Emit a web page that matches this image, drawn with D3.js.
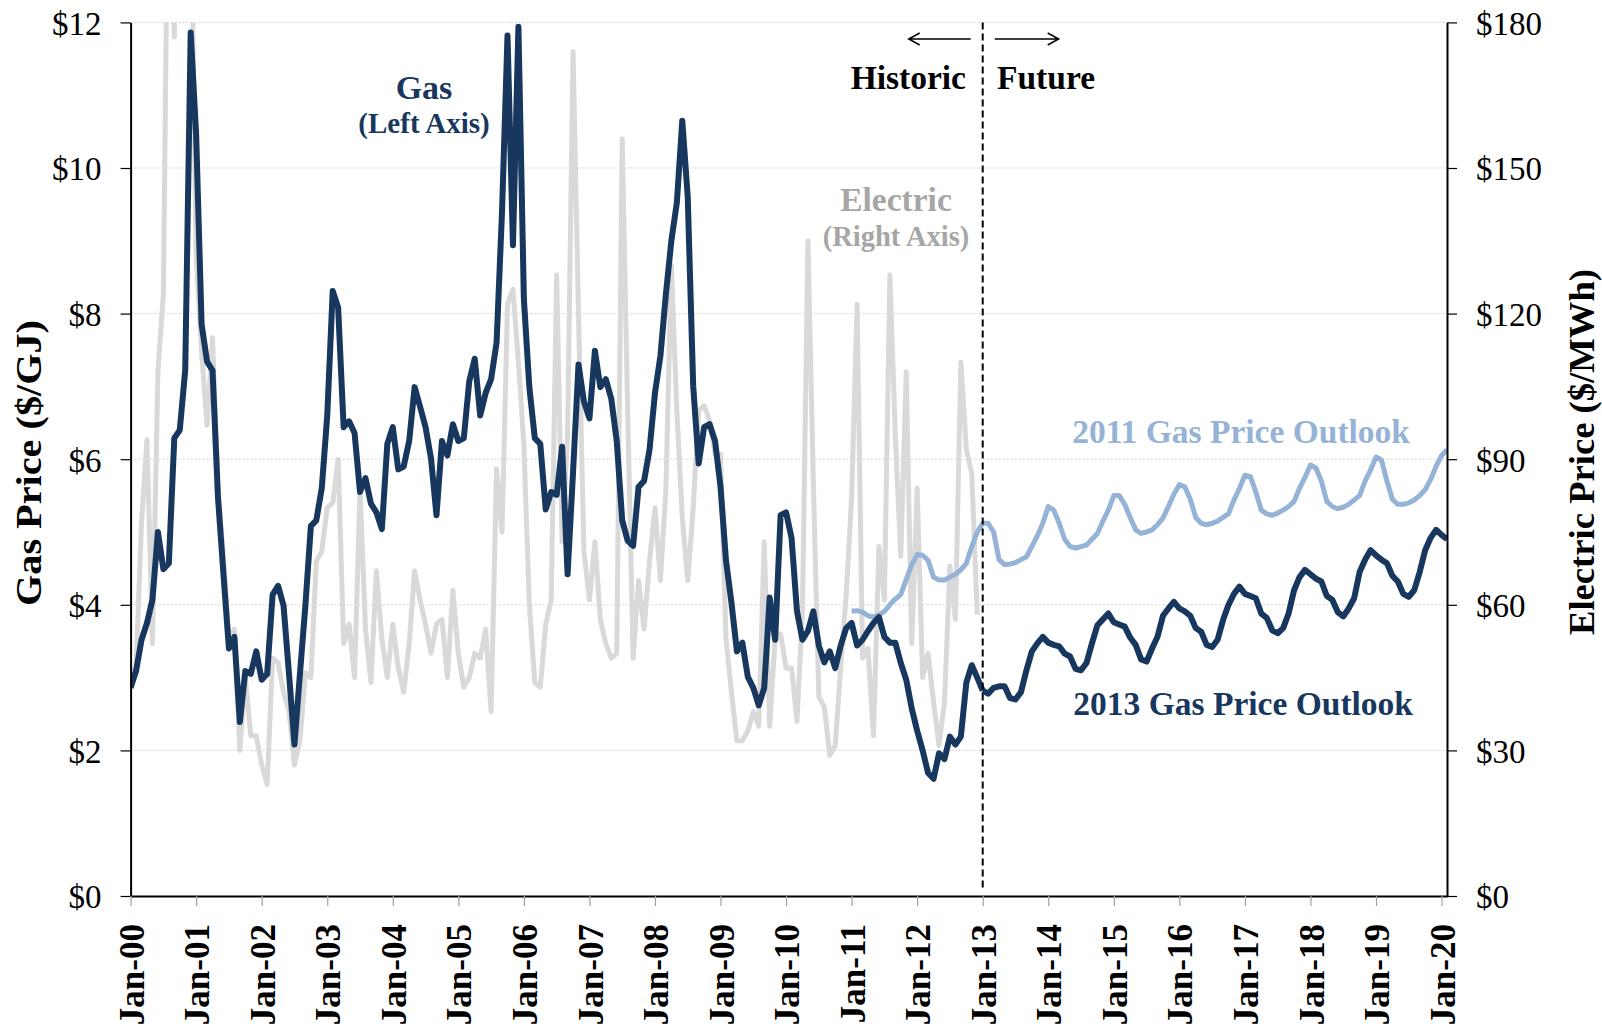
<!DOCTYPE html>
<html>
<head>
<meta charset="utf-8">
<script src="https://cdn.jsdelivr.net/npm/d3@7"></script>
<style>
  body { margin: 0; background: #fff; }
  svg text { font-family: "Times New Roman", "Liberation Serif", serif; }
</style>
</head>
<body>
<div id="chart"></div>
<script>
// monthly values, month 0 = Jan-00
var gasHistStart = 0;
var gasHist = [
  2.86, 3.09, 3.52, 3.75, 4.07, 5.0, 4.49, 4.57, 6.29, 6.40,
  7.22, 11.86, 10.46, 7.85, 7.34, 7.22, 5.47, 4.42, 3.40, 3.56,
  2.39, 3.09, 3.05, 3.36, 2.97, 3.05, 4.14, 4.26, 3.99, 3.05,
  2.08, 3.05, 3.99, 5.08, 5.16, 5.6, 6.6, 8.31, 8.08, 6.44,
  6.52, 6.36, 5.55, 5.74, 5.39, 5.27, 5.04, 6.21, 6.44, 5.86,
  5.90, 6.25, 6.99, 6.72, 6.44, 6.01, 5.23, 6.25, 6.05, 6.48,
  6.25, 6.29, 7.07, 7.38, 6.6, 6.91, 7.1, 7.6, 9.4, 11.82,
  8.94, 11.94, 8.2, 6.99, 6.29, 6.21, 5.31, 5.55, 5.51, 6.17,
  4.42, 5.82, 7.3, 6.79, 6.56, 7.49, 6.99, 7.1, 6.83, 6.25,
  5.16, 4.88, 4.81, 5.62, 5.7, 6.13, 6.91, 7.42, 8.27, 9.0,
  9.52, 10.65, 9.6, 7.0, 5.94, 6.44, 6.48, 6.25, 5.62, 4.61,
  4.03, 3.36, 3.48, 3.01, 2.86, 2.62, 2.86, 4.1, 3.52, 5.23,
  5.27, 4.92, 3.91, 3.52, 3.64, 3.91, 3.44, 3.21, 3.36, 3.13,
  3.44, 3.68, 3.75, 3.44, 3.52, 3.64, 3.75, 3.83, 3.56, 3.48,
  3.48, 3.2, 2.97, 2.58, 2.27, 2.0, 1.69, 1.61, 1.96, 1.88,
  2.19, 2.08, 2.19, 2.93, 3.17, 3.0, 2.82
];

var elecStart = 0;
var elec = [
  46, 47, 77, 94, 52, 108, 124, 230, 177, 260,
  240, 210, 132, 112, 97, 115, 84, 70, 53, 55,
  30, 45, 33, 33, 27, 23, 49, 48, 42, 38,
  27, 32, 46, 45, 69, 71, 80, 81, 90, 52,
  56, 45, 84, 55, 44, 67, 53, 45, 56, 47,
  42, 52, 67, 61, 56, 50, 56, 57, 45, 63,
  50, 43, 45, 50, 49, 55, 38, 88, 75, 122,
  125, 110, 93, 60, 44, 43, 56, 61, 128, 73,
  95, 174, 120, 71, 61, 73, 57, 52, 49, 50,
  156, 100, 49, 65, 55, 69, 80, 65, 84, 130,
  100, 78, 65, 80, 100, 101, 98, 91, 91, 53,
  42, 32, 32, 34, 38, 35, 73, 35, 53, 54,
  47, 47, 36, 59, 135, 85, 41, 39, 29, 31,
  47, 62, 82, 122, 49, 51, 33, 72, 61, 128,
  95, 70, 108, 52, 84, 45, 50, 40, 31, 40,
  68, 57, 110, 92, 87, 58
];

var outlook2011Start = 132;
var outlook2011 = [
  3.91, 3.92, 3.9, 3.85, 3.83, 3.86, 3.91, 4.0, 4.08, 4.14,
  4.35, 4.55, 4.69, 4.68, 4.61, 4.38, 4.34, 4.34, 4.38, 4.42,
  4.48, 4.57, 4.8, 5.0, 5.12, 5.12, 5.0, 4.62, 4.55, 4.56,
  4.58, 4.62, 4.66, 4.8, 4.95, 5.12, 5.35, 5.3, 5.12, 4.9,
  4.8, 4.78, 4.8, 4.82, 4.9, 4.98, 5.15, 5.3, 5.5, 5.5,
  5.38, 5.2, 5.03, 4.98, 5.0, 5.03, 5.1, 5.19, 5.35, 5.52,
  5.65, 5.62, 5.45, 5.2, 5.12, 5.1, 5.12, 5.15, 5.2, 5.25,
  5.44, 5.6, 5.78, 5.76, 5.55, 5.3, 5.25, 5.23, 5.26, 5.3,
  5.35, 5.42, 5.6, 5.75, 5.92, 5.88, 5.7, 5.42, 5.35, 5.32,
  5.34, 5.38, 5.44, 5.5, 5.7, 5.85, 6.03, 5.99, 5.7, 5.45,
  5.38, 5.38, 5.4, 5.44, 5.5, 5.58, 5.72, 5.9, 6.05, 6.13
];

var outlook2013Start = 156;
var outlook2013 = [
  2.82, 2.78, 2.86, 2.88, 2.88, 2.72, 2.7, 2.8, 3.1, 3.36,
  3.47, 3.56, 3.48, 3.45, 3.43, 3.33, 3.29, 3.12, 3.1, 3.2,
  3.47, 3.72, 3.8, 3.88, 3.76, 3.73, 3.70, 3.55, 3.45, 3.25,
  3.22, 3.4, 3.56, 3.85, 3.95, 4.04, 3.95, 3.91, 3.85, 3.68,
  3.63, 3.45, 3.42, 3.52, 3.79, 4.0, 4.15, 4.25, 4.15, 4.12,
  4.09, 3.88, 3.82, 3.65, 3.61, 3.68, 3.88, 4.2, 4.38, 4.48,
  4.42, 4.36, 4.32, 4.12, 4.07, 3.9, 3.84, 3.95, 4.09, 4.45,
  4.62, 4.75, 4.68, 4.62, 4.57, 4.4, 4.32, 4.15, 4.11, 4.2,
  4.45, 4.75, 4.92, 5.03, 4.96, 4.9
];

var gasTicks = [0, 2, 4, 6, 8, 10, 12];
var elecTicks = [0, 30, 60, 90, 120, 150, 180];
var xTickMonths = [0, 12, 24, 36, 48, 60, 72, 84, 96, 108, 120, 132, 144, 156, 168, 180, 192, 204, 216, 228, 240];
var xTickLabels = ["Jan-00", "Jan-01", "Jan-02", "Jan-03", "Jan-04", "Jan-05", "Jan-06",
  "Jan-07", "Jan-08", "Jan-09", "Jan-10", "Jan-11", "Jan-12", "Jan-13", "Jan-14",
  "Jan-15", "Jan-16", "Jan-17", "Jan-18", "Jan-19", "Jan-20"];
var splitMonth = 156; // Jan-13, historic | future

var svgwidth = 1602;
var svgheight = 1027;
var plotLeft = 130.6, plotRight = 1447, plotTop = 22.4, plotBottom = 896;

var navy = "#17375e", lightBlue = "#95b3d7", grey = "#d9d9d9";

var svg = d3
  .select("#chart")
  .append("svg")
  .attr("width", svgwidth)
  .attr("height", svgheight)
  .style("background", "#fff");

var x = d3.scaleLinear().domain([0, 241]).range([plotLeft, plotRight]);
var yGas = d3.scaleLinear().domain([0, 12]).range([plotBottom, plotTop]);
var yElec = d3.scaleLinear().domain([0, 180]).range([plotBottom, plotTop]);

svg.append("clipPath").attr("id", "plot-clip")
  .append("rect")
  .attr("x", plotLeft).attr("y", plotTop)
  .attr("width", plotRight - plotLeft).attr("height", plotBottom - plotTop);

// gridlines
svg.append("g")
  .selectAll("line")
  .data(gasTicks.slice(1))
  .join("line")
  .attr("x1", plotLeft)
  .attr("x2", plotRight)
  .attr("y1", (d) => yGas(d))
  .attr("y2", (d) => yGas(d))
  .style("stroke", "#cfcfcf")
  .style("stroke-width", 1)
  .style("stroke-dasharray", "2,2");

// lines
function monthLine(start, yscale) {
  return d3.line()
    .x((d, i) => x(start + i))
    .y((d) => yscale(d))
    .curve(d3.curveLinear);
}

var plot = svg.append("g").attr("clip-path", "url(#plot-clip)");

plot.append("path")
  .datum(elec)
  .attr("d", monthLine(elecStart, yElec))
  .style("fill", "none")
  .style("stroke", grey)
  .style("stroke-width", 5)
  .style("stroke-linejoin", "round");

plot.append("path")
  .datum(outlook2011)
  .attr("d", monthLine(outlook2011Start, yGas))
  .style("fill", "none")
  .style("stroke", lightBlue)
  .style("stroke-width", 5)
  .style("stroke-linejoin", "round");

plot.append("path")
  .datum(gasHist)
  .attr("d", monthLine(gasHistStart, yGas))
  .style("fill", "none")
  .style("stroke", navy)
  .style("stroke-width", 6)
  .style("stroke-linejoin", "round");

plot.append("path")
  .datum(outlook2013)
  .attr("d", monthLine(outlook2013Start, yGas))
  .style("fill", "none")
  .style("stroke", navy)
  .style("stroke-width", 6)
  .style("stroke-linejoin", "round");

// historic / future divider
svg.append("line")
  .attr("x1", x(splitMonth)).attr("x2", x(splitMonth))
  .attr("y1", plotTop).attr("y2", plotBottom - 6)
  .style("stroke", "#000")
  .style("stroke-width", 2)
  .style("stroke-dasharray", "7,4");

// axes
var gLeft = svg.append("g")
  .attr("transform", "translate(" + plotLeft + ",0)")
  .call(d3.axisLeft(yGas).tickValues(gasTicks).tickFormat((d) => "$" + d)
    .tickSize(10).tickSizeOuter(0).tickPadding(19));

var gRight = svg.append("g")
  .attr("transform", "translate(" + plotRight + ",0)")
  .call(d3.axisRight(yElec).tickValues(elecTicks).tickFormat((d) => "$" + d)
    .tickSize(10).tickSizeOuter(0).tickPadding(19));

var gBottom = svg.append("g")
  .attr("transform", "translate(0," + plotBottom + ")")
  .call(d3.axisBottom(x).tickValues(xTickMonths).tickFormat((d, i) => xTickLabels[i])
    .tickSize(10).tickSizeOuter(0));

[gLeft, gRight].forEach(function (g) {
  g.select(".domain").style("stroke", "#000").style("stroke-width", 2);
  g.selectAll(".tick line").style("stroke", "#000").style("stroke-width", 1.2);
  g.selectAll(".tick text")
    .style("font-size", "33px")
    .style("fill", "#000")
    .attr("dy", "0.36em");
});

gBottom.select(".domain").style("stroke", "#000").style("stroke-width", 2);
gBottom.selectAll(".tick line").style("stroke", "#a0a0a0").style("stroke-width", 1.2);
gBottom.selectAll(".tick text")
  .attr("transform", "rotate(-90)")
  .attr("text-anchor", "end")
  .attr("x", -28)
  .attr("y", 0)
  .attr("dy", "0.36em")
  .style("font-size", "35px")
  .style("font-weight", "700")
  .style("fill", "#000");

// axis titles
svg.append("text")
  .attr("transform", "translate(41,463) rotate(-90)")
  .attr("textLength", 286)
  .attr("lengthAdjust", "spacingAndGlyphs")
  .style("text-anchor", "middle")
  .style("font-size", "36px")
  .style("font-weight", "700")
  .text("Gas Price ($/GJ)");

svg.append("text")
  .attr("transform", "translate(1594,452) rotate(-90)")
  .attr("textLength", 366)
  .attr("lengthAdjust", "spacingAndGlyphs")
  .style("text-anchor", "middle")
  .style("font-size", "36px")
  .style("font-weight", "700")
  .text("Electric Price ($/MWh)");

// annotations
function note(txt, xPos, yPos, size, color, anchor) {
  svg.append("text")
    .attr("x", xPos)
    .attr("y", yPos)
    .style("text-anchor", anchor)
    .style("font-size", size + "px")
    .style("font-weight", "700")
    .style("fill", color)
    .text(txt);
}

note("Gas", 424, 99, 34, navy, "middle");
note("(Left Axis)", 424, 133, 29, navy, "middle");
note("Electric", 896, 211, 33.5, "#a6a6a6", "middle");
note("(Right Axis)", 896, 246, 28.5, "#a6a6a6", "middle");
note("Historic", 966, 89, 33.5, "#000", "end");
note("Future", 997, 89, 33.5, "#000", "start");
note("2011 Gas Price Outlook", 1410, 443, 33.5, lightBlue, "end");
note("2013 Gas Price Outlook", 1413, 715, 33.5, navy, "end");

// arrows
var xs = x(splitMonth);
svg.append("path")
  .attr("d", "M" + (xs - 12) + ",39 H" + (xs - 74) +
    " M" + (xs - 63) + ",33 L" + (xs - 74) + ",39 L" + (xs - 63) + ",45")
  .style("fill", "none").style("stroke", "#000").style("stroke-width", 1.5);
svg.append("path")
  .attr("d", "M" + (xs + 12) + ",39 H" + (xs + 76) +
    " M" + (xs + 65) + ",33 L" + (xs + 76) + ",39 L" + (xs + 65) + ",45")
  .style("fill", "none").style("stroke", "#000").style("stroke-width", 1.5);
</script>
</body>
</html>
